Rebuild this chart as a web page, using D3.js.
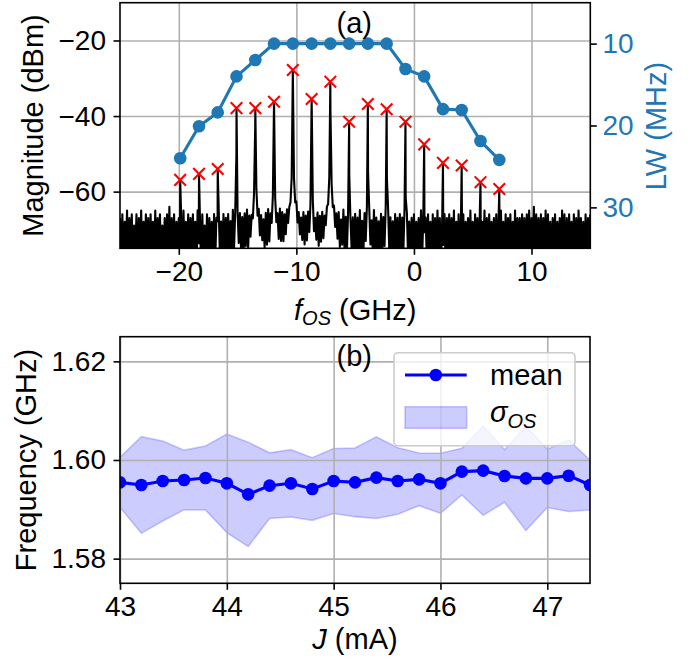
<!DOCTYPE html>
<html><head><meta charset="utf-8">
<script src="https://d3js.org/d3.v7.min.js"></script>
<style>
body{margin:0;background:#fff}
svg{display:block}
text{font-family:"Liberation Sans",Arial,sans-serif}
</style>
</head><body>
<svg id="c" width="697" height="666"></svg>
<script>
// ---------- Panel (a) data ----------
const peakFreq = [-19.88,-18.28,-16.69,-15.09,-13.49,-11.90,-10.30,-8.70,-7.11,-5.51,-3.92,-2.32,-0.72,0.87,2.47,4.06,5.66,7.26];
const peakMag  = [-56.9,-55.3,-54.0,-37.9,-37.9,-36.2,-27.8,-35.5,-30.9,-41.5,-36.8,-38.2,-41.5,-47.5,-52.4,-53.1,-57.5,-59.3];
const peakWidth = [0.002,0.002,0.002,0.0025,0.007,0.0045,0.0035,0.003,0.0045,0.002,0.0025,0.0025,0.002,0.002,0.002,0.002,0.002,0.002];
const lwValues = [24.0,20.1,18.4,14.0,12.0,10,10,10,10,10,10,10,13.1,14.0,18.0,18.1,21.9,24.2];
const noiseStart = -25, noiseStep = 0.1;
const noiseMag = [
-67,-79,-66,-81,-68,-76,-65,-83,-67,-78,-66,-80,-69,-77,-66,-82,-67,-79,-65,-81,
-68,-78,-66,-80,-67,-84,-66,-77,-68,-79,-65,-81,-67,-76,-66,-82,-69,-79,-67,-80,
-66,-78,-64,-81,-67,-79,-66,-83,-68,-77,-67,-80,-66,-82,-65,-78,-68,-81,-66,-79,
-67,-80,-66,-77,-68,-82,-65,-79,-67,-81,-66,-78,-69,-80,-66,-83,-67,-77,-68,-80,
-66,-79,-67,-81,-65,-78,-68,-80,-66,-82,-67,-77,-66,-81,-68,-79,-65,-83,-67,-78,
-68,-80,-66,-79,-67,-82,-66,-77,-65,-81,-67,-79,-68,-80,-66,-78,-67,-83,-66,-80,
-67,-77,-68,-81,-66,-79,-65,-82,-67,-78,-66,-80,-68,-77,-67,-81,-65,-79,-66,-82,
-67,-80,-66,-78,-68,-81,-66,-79,-67,-83,-65,-77,-67,-80,-68,-79,-66,-81,-67,-78,
-66,-82,-67,-79,-65,-80,-68,-77,-66,-81,-67,-79,-66,-83,-68,-78,-67,-80,-65,-79,
-68,-81,-66,-78,-67,-80,-66,-82,-68,-77,-65,-79,-67,-81,-66,-80,-68,-78,-67,-83,
-66,-79,-67,-81,-65,-78,-68,-80,-66,-82,-67,-77,-66,-80,-68,-79,-65,-81,-67,-78,
-68,-80,-66,-79,-67,-83,-66,-77,-65,-81,-67,-79,-68,-80,-66,-78,-67,-82,-66,-80,
-67,-78,-65,-81,-66,-79,-68,-82,-67,-77,-66,-80,-68,-78,-67,-81,-65,-79,-66,-83,
-67,-80,-66,-78,-68,-81,-66,-79,-67,-82,-65,-77,-67,-80,-68,-79,-66,-81,-67,-78,
-66,-81,-67,-79,-65,-80,-68,-78,-66,-82,-67,-79,-66,-80,-68,-77,-67,-81,-65,-79,
-68,-80,-66,-78,-67,-82,-66,-79,-68,-77,-65,-81,-67,-80,-66,-79,-68,-78,-67,-83,
-66,-79,-67,-81,-65,-78,-68,-80,-66,-82,-67,-77,-66,-80,-68,-79,-65,-81,-67,-78,
-67,-80,-66,-79,-67,-82,-66,-78,-65,-81,-67,-79,-64,-80,-66,-78,-67,-82,-66,-80,
-67,-78,-65,-81,-66,-79,-68,-82,-67,-77,-66,-80,-68,-78,-67,-81,-65,-79,-66,-83,
-67,-80,-66,-78,-68,-81,-66,-79,-67,-82,-65,-77,-67,-80,-68,-79,-66,-81,-67,-78,
-66];
const xTicksA = [-20,-10,0,10];
const yTicksA = [-60,-40,-20];
const lwTicks = [10,20,30];

// ---------- Panel (b) data ----------
const currentJ = [43.0,43.2,43.4,43.6,43.8,44.0,44.2,44.4,44.6,44.8,45.0,45.2,45.4,45.6,45.8,46.0,46.2,46.4,46.6,46.8,47.0,47.2,47.4];
const meanFreq = [1.59547,1.59493,1.59574,1.59595,1.59635,1.59527,1.59304,1.59480,1.59527,1.59412,1.59574,1.59547,1.59642,1.59574,1.59608,1.59527,1.59764,1.59784,1.59676,1.59628,1.59628,1.59682,1.59493];
const sigmaFreq = [0.00507,0.00980,0.00811,0.00605,0.00649,0.01000,0.01058,0.00666,0.00683,0.00635,0.00659,0.00696,0.00828,0.00676,0.00534,0.00609,0.00473,0.00906,0.00534,0.01058,0.00591,0.00726,0.00507];
const xTicksB = [43,44,45,46,47];
const yTicksB = [1.58,1.60,1.62];

// ---------- layout ----------
const svg = d3.select('#c');
const A = {l:120, r:590.3, t:2.7, b:248.3};
const B = {l:120, r:590, t:336.7, b:583.3};
const xA = d3.scaleLinear().domain([-25,15]).range([A.l,A.r]);
const yA = d3.scaleLinear().domain([-75,-10]).range([A.b,A.t]);
const yLW = d3.scaleLinear().domain([5,35]).range([A.t,A.b]);
const xB = d3.scaleLinear().domain([43,47.4]).range([B.l,B.r]);
const yB = d3.scaleLinear().domain([1.575,1.625]).range([B.b,B.t]);

const GRID = '#b0b0b0', LW_BLUE = '#1f77b4', SW = 1.6, TICK = 6.5, FS = 28, LFS = 29;

const defs = svg.append('defs');
defs.append('clipPath').attr('id','clipA').append('rect')
  .attr('x',A.l).attr('y',A.t).attr('width',A.r-A.l).attr('height',A.b-A.t);
defs.append('clipPath').attr('id','clipB').append('rect')
  .attr('x',B.l).attr('y',B.t).attr('width',B.r-B.l).attr('height',B.b-B.t);

function styleAxis(g, color){
  g.select('.domain').remove();
  g.selectAll('.tick line').attr('stroke','#000').attr('stroke-width',SW);
  g.selectAll('.tick text').attr('font-size',FS).attr('fill',color||'#000')
    .attr('font-family','"Liberation Sans",Arial,sans-serif');
}
function grid(g, axis){ g.call(axis); g.select('.domain').remove();
  g.selectAll('.tick line').attr('stroke',GRID).attr('stroke-width',SW); g.selectAll('text').remove(); }

// ---------- Panel (a) ----------
const gA = svg.append('g');
grid(gA.append('g').attr('transform',`translate(0,${A.b})`),
  d3.axisBottom(xA).tickValues(xTicksA).tickSize(-(A.b-A.t)));
grid(gA.append('g').attr('transform',`translate(${A.l},0)`),
  d3.axisLeft(yA).tickValues(yTicksA).tickSize(-(A.r-A.l)));

// spectrum trace: typed noise floor + peaks (power sum)
const trace = noiseMag.map((n,i)=>({f: noiseStart + i*noiseStep, p: n, peak:false}));
peakFreq.forEach((f,k)=>trace.push({f, p: peakMag[k], peak:true}));
trace.sort((a,b)=>a.f-b.f);
trace.forEach(d=>{
  if(d.peak){ d.v = d.p; return; }
  let lin = Math.pow(10,d.p/10);
  peakFreq.forEach((f0,k)=>{ const u=(d.f-f0)/peakWidth[k]; lin += Math.pow(10,peakMag[k]/10)/(1+u*u); });
  d.v = 10*Math.log10(lin);
});
const plotA = gA.append('g').attr('clip-path','url(#clipA)');
plotA.append('path').datum(trace)
  .attr('d', d3.line().x(d=>xA(d.f)).y(d=>yA(d.v)))
  .attr('fill','none').attr('stroke','#000').attr('stroke-width',2.1).attr('stroke-linejoin','round');

// LW line
const lwData = peakFreq.map((f,i)=>({f, v: lwValues[i]}));
plotA.append('path').datum(lwData)
  .attr('d', d3.line().x(d=>xA(d.f)).y(d=>yLW(d.v)))
  .attr('fill','none').attr('stroke',LW_BLUE).attr('stroke-width',3.1);
plotA.selectAll('circle.lw').data(lwData).join('circle')
  .attr('cx',d=>xA(d.f)).attr('cy',d=>yLW(d.v)).attr('r',6.3).attr('fill',LW_BLUE);

// red x markers
plotA.selectAll('path.xm').data(peakFreq.map((f,i)=>({f, v: peakMag[i]}))).join('path')
  .attr('transform',d=>`translate(${xA(d.f)},${yA(d.v)})`)
  .attr('d','M-5.8,-5.8L5.8,5.8M-5.8,5.8L5.8,-5.8')
  .attr('stroke','#ff0000').attr('stroke-width',2.1).attr('fill','none');

// axes (a)
const axA_b = gA.append('g').attr('transform',`translate(0,${A.b})`)
  .call(d3.axisBottom(xA).tickValues(xTicksA).tickSize(TICK).tickPadding(6.6).tickFormat(d3.format('d')));
styleAxis(axA_b);
const axA_l = gA.append('g').attr('transform',`translate(${A.l},0)`)
  .call(d3.axisLeft(yA).tickValues(yTicksA).tickSize(TICK).tickPadding(7.5).tickFormat(d3.format('d')));
styleAxis(axA_l);
const axA_r = gA.append('g').attr('transform',`translate(${A.r},0)`)
  .call(d3.axisRight(yLW).tickValues(lwTicks).tickSize(TICK).tickPadding(5.7).tickFormat(d3.format('d')));
styleAxis(axA_r, LW_BLUE);

gA.append('rect').attr('x',A.l).attr('y',A.t).attr('width',A.r-A.l).attr('height',A.b-A.t)
  .attr('fill','none').attr('stroke','#000').attr('stroke-width',SW);

gA.append('text').attr('x',354.2).attr('y',32.5).attr('text-anchor','middle').attr('font-size',LFS).text('(a)');

const xlA = gA.append('text').attr('x',355.2).attr('y',319.7).attr('text-anchor','middle').attr('font-size',LFS);
xlA.append('tspan').attr('font-style','italic').text('f');
xlA.append('tspan').attr('font-style','italic').attr('font-size',20).attr('dy',5).text('OS');
xlA.append('tspan').attr('dy',-5).text(' (GHz)');

gA.append('text').attr('transform','translate(43.3,125.5) rotate(-90)').attr('text-anchor','middle')
  .attr('font-size',LFS).text('Magnitude (dBm)');
gA.append('text').attr('transform','translate(665.7,126) rotate(-90)').attr('text-anchor','middle')
  .attr('font-size',LFS).attr('fill',LW_BLUE).text('LW (MHz)');

// ---------- Panel (b) ----------
const gB = svg.append('g');
const bData = currentJ.map((j,i)=>({j, m: meanFreq[i], s: sigmaFreq[i]}));
const plotB = gB.append('g').attr('clip-path','url(#clipB)');
plotB.append('path').datum(bData)
  .attr('d', d3.area().x(d=>xB(d.j)).y0(d=>yB(d.m-d.s)).y1(d=>yB(d.m+d.s)))
  .attr('fill','rgba(0,0,255,0.2)').attr('stroke','rgba(0,0,255,0.2)').attr('stroke-width',1.6);

grid(gB.append('g').attr('transform',`translate(0,${B.b})`),
  d3.axisBottom(xB).tickValues(xTicksB).tickSize(-(B.b-B.t)));
grid(gB.append('g').attr('transform',`translate(${B.l},0)`),
  d3.axisLeft(yB).tickValues(yTicksB).tickSize(-(B.r-B.l)));

const plotB2 = gB.append('g').attr('clip-path','url(#clipB)');
plotB2.append('path').datum(bData)
  .attr('d', d3.line().x(d=>xB(d.j)).y(d=>yB(d.m)))
  .attr('fill','none').attr('stroke','#0000ff').attr('stroke-width',3.1);
plotB2.selectAll('circle').data(bData).join('circle')
  .attr('cx',d=>xB(d.j)).attr('cy',d=>yB(d.m)).attr('r',6.3).attr('fill','#0000ff');

const axB_b = gB.append('g').attr('transform',`translate(0,${B.b})`)
  .call(d3.axisBottom(xB).tickValues(xTicksB).tickSize(TICK).tickPadding(6.6).tickFormat(d3.format('d')));
styleAxis(axB_b);
const axB_l = gB.append('g').attr('transform',`translate(${B.l},0)`)
  .call(d3.axisLeft(yB).tickValues(yTicksB).tickSize(TICK).tickPadding(7.5).tickFormat(d3.format('.2f')));
styleAxis(axB_l);

gB.append('rect').attr('x',B.l).attr('y',B.t).attr('width',B.r-B.l).attr('height',B.b-B.t)
  .attr('fill','none').attr('stroke','#000').attr('stroke-width',SW);

gB.append('text').attr('x',354.2).attr('y',366).attr('text-anchor','middle').attr('font-size',LFS).text('(b)');

const xlB = gB.append('text').attr('x',355).attr('y',649).attr('text-anchor','middle').attr('font-size',LFS);
xlB.append('tspan').attr('font-style','italic').text('J');
xlB.append('tspan').text(' (mA)');

gB.append('text').attr('transform','translate(35.7,460) rotate(-90)').attr('text-anchor','middle')
  .attr('font-size',LFS).text('Frequency (GHz)');

// legend
const lg = gB.append('g');
lg.append('rect').attr('x',394).attr('y',352.7).attr('width',181).attr('height',93).attr('rx',4)
  .attr('fill','rgba(255,255,255,0.8)').attr('stroke','#cccccc').attr('stroke-width',1.6);
lg.append('line').attr('x1',405).attr('x2',466.7).attr('y1',375).attr('y2',375)
  .attr('stroke','#0000ff').attr('stroke-width',3.1);
lg.append('circle').attr('cx',435.8).attr('cy',375).attr('r',6.3).attr('fill','#0000ff');
lg.append('rect').attr('x',405).attr('y',406.7).attr('width',61.7).attr('height',21.6)
  .attr('fill','rgba(0,0,255,0.2)').attr('stroke','rgba(0,0,255,0.2)').attr('stroke-width',1.6);
lg.append('text').attr('x',490).attr('y',385).attr('font-size',LFS).text('mean');
const sg = lg.append('text').attr('x',490).attr('y',422).attr('font-size',LFS);
sg.append('tspan').attr('font-style','italic').text('σ');
sg.append('tspan').attr('font-style','italic').attr('font-size',20).attr('dy',6).text('OS');
</script>
</body></html>
